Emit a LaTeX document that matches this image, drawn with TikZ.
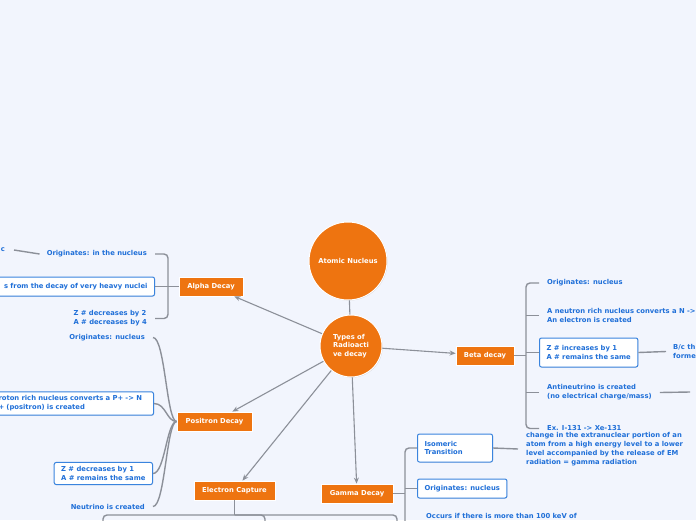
\documentclass[tikz,border=0pt]{standalone}
\usepackage{fontspec}
\setsansfont{DejaVu Sans}
\usetikzlibrary{arrows.meta,positioning,shadows}
\definecolor{mapbg}{HTML}{F2F5FD}
\definecolor{maporange}{HTML}{EE7410}
\definecolor{mapblue}{HTML}{1F6FD8}
\definecolor{boxblue}{HTML}{3A84DE}
\definecolor{linegrey}{HTML}{8C9099}
\newcommand{\mmfont}{\sffamily\bfseries\fontsize{6.8}{8.8}\selectfont}

\begin{document}
\begin{tikzpicture}[x=1pt,y=-1pt,
		hub/.style={circle,fill=maporange,draw=white,line width=1pt,text=white,font=\mmfont,inner sep=2pt,drop shadow={shadow xshift=0.6pt,shadow yshift=-0.6pt,opacity=0.3}},
		topic/.style={fill=maporange,draw=white,line width=0.8pt,text=white,font=\mmfont,minimum height=19pt,inner xsep=5pt,drop shadow={shadow xshift=0.6pt,shadow yshift=-0.6pt,opacity=0.3}},
		sub/.style={draw=boxblue,fill=white,rounded corners=2pt,line width=1pt,text=mapblue,font=\mmfont,align=left,inner xsep=7pt,inner ysep=4pt,drop shadow={shadow xshift=0.5pt,shadow yshift=-0.5pt,opacity=0.2}},
		note/.style={text=mapblue,font=\mmfont,align=left,inner sep=1pt},
		arr/.style={-{Stealth[length=6pt,width=5pt]},linegrey,line width=1.1pt},
		conn/.style={linegrey,line width=1.4pt,rounded corners=4pt}
		]
		\useasboundingbox (0,0) rectangle (696,520);
		\fill[mapbg] (0,0) rectangle (696,520);
		\clip (0,0) rectangle (696,520);
		% centre
		\node[hub,minimum size=78pt] (nucleus) at (348,261) {Atomic Nucleus};
		\node[hub,minimum size=62pt,align=left] (types) at (351,346) {Types of\\Radioacti\\ve decay};
		\draw[linegrey,line width=1.1pt] (nucleus) -- (types);
		% main branches
		\node[topic,minimum width=64pt] (alpha) at (211,286.5) {Alpha Decay};
		\node[topic,minimum width=75pt] (positron) at (214.5,421.5) {Positron Decay};
		\node[topic,minimum width=81pt] (ecap) at (234.5,490.5) {Electron Capture};
		\node[topic,minimum width=72pt] (gamma) at (357,493.5) {Gamma Decay};
		\node[topic,minimum width=58pt] (beta) at (485,355.5) {Beta decay};
		\draw[arr] (types) -- (alpha);
		\draw[arr] (types) -- (positron);
		\draw[arr] (types) -- (ecap);
		\draw[arr] (types) -- (gamma);
		\draw[arr] (types) -- (beta);
		% alpha
		\node[note,anchor=east] (aOrig) at (148,254) {Originates: in the nucleus};
		\node[sub,anchor=east,minimum height=19pt,text width=160pt,align=right] (aHeavy) at (155,286.5) {s from the decay of very heavy nuclei};
		\node[note,anchor=east] (aZ) at (148,318.5) {Z \# decreases by 2\\A \# decreases by 4};
		\node[note,anchor=east] (aFar) at (6,250) {c};
		\coordinate (aJ) at (168,286.5);
		\draw[conn] ([xshift=7pt]aOrig.east) -| (aJ) |- ([xshift=7pt]aZ.east);
		\draw[conn] (alpha.west) -- (aHeavy.east);
		\draw[conn] ([xshift=8pt]aFar.east) -- ([xshift=-6pt]aOrig.west);
		% positron
		\node[note,anchor=east] (pOrig) at (146,337.5) {Originates: nucleus};
		\node[sub,anchor=east,text width=148pt] (pProton) at (154,403.5) {roton rich nucleus converts a P+ -> N\\+ (positron) is created};
		\node[sub,anchor=east] (pZ) at (153,473.5) {Z \# decreases by 1\\A \# remains the same};
		\node[note,anchor=east] (pNeu) at (146,506.5) {Neutrino is created};
		\draw[conn] ([xshift=7pt]pOrig.east) .. controls +(12,0) and +(-10,0) .. (positron.west);
		\draw[conn] (pProton.east) .. controls +(12,0) and +(-10,0) .. (positron.west);
		\draw[conn] (pZ.east) .. controls +(12,0) and +(-10,0) .. (positron.west);
		\draw[conn] ([xshift=7pt]pNeu.east) .. controls +(12,0) and +(-10,0) .. (positron.west);
		% electron capture
		\coordinate (ecJ) at (234.5,515);
		\coordinate (ec1) at (103,535);
		\coordinate (ec2) at (265,535);
		\coordinate (ec3) at (397,535);
		\draw[conn] (ecap.south) -- (ecJ);
		\draw[conn] (ec1) |- (ecJ) -| (ec3);
		\draw[conn] (ecJ) -| (ec2);
		% gamma
		\coordinate (gJ) at (405,493.5);
		\node[sub,anchor=west,minimum height=28pt,text width=61pt] (gIso) at (417,448) {Isomeric\\Transition};
		\node[note,anchor=west] (gIsoNote) at (525,449) {change in the extranuclear portion of an\\atom from a high energy level to a lower\\level accompanied by the release of EM\\radiation = gamma radiation};
		\node[sub,anchor=west,minimum height=19pt] (gOrig) at (417,488.5) {Originates: nucleus};
		\node[note,anchor=north west] (gOcc) at (425,512) {Occurs if there is more than 100 keV of};
		\draw[conn] (gamma.east) -- (gJ);
		\draw[conn] (gIso.west) -| (gJ) |- ([yshift=-16pt]gOcc.west);
		\draw[conn] (gOrig.west) -- (gOrig.west -| gJ);
		\draw[conn] (gIso.east) -- ([xshift=-7pt]gIsoNote.west);
		% beta
		\coordinate (bJ) at (526,355.5);
		\node[note,anchor=west] (bOrig) at (546,283) {Originates: nucleus};
		\node[note,anchor=west] (bNeu) at (546,315.5) {A neutron rich nucleus converts a N ->\\An electron is created};
		\node[sub,anchor=west,minimum height=29pt] (bZ) at (539,352.5) {Z \# increases by 1\\A \# remains the same};
		\node[note,anchor=west] (bAnti) at (546,392.5) {Antineutrino is created\\(no electrical charge/mass)};
		\node[note,anchor=west] (bEx) at (546,428.5) {Ex. I-131 -> Xe-131};
		\node[note,anchor=west] (bBc) at (672,351.5) {B/c th\\forme};
		\coordinate (bAntiOut) at (690,392);
		\draw[conn] (beta.east) -- (bJ);
		\draw[conn] ([xshift=-7pt]bOrig.west) -| (bJ) |- ([xshift=-7pt]bEx.west);
		\draw[conn] ([xshift=-7pt]bNeu.west) -- (bNeu.west -| bJ);
		\draw[conn] (bZ.west) -- (bZ.west -| bJ);
		\draw[conn] ([xshift=-7pt]bAnti.west) -- (bAnti.west -| bJ);
		\draw[conn] (bZ.east) -- ([xshift=-6pt]bBc.west);
		\draw[conn] ([xshift=7pt]bAnti.east) -- (bAntiOut);
\end{tikzpicture}
\end{document}
